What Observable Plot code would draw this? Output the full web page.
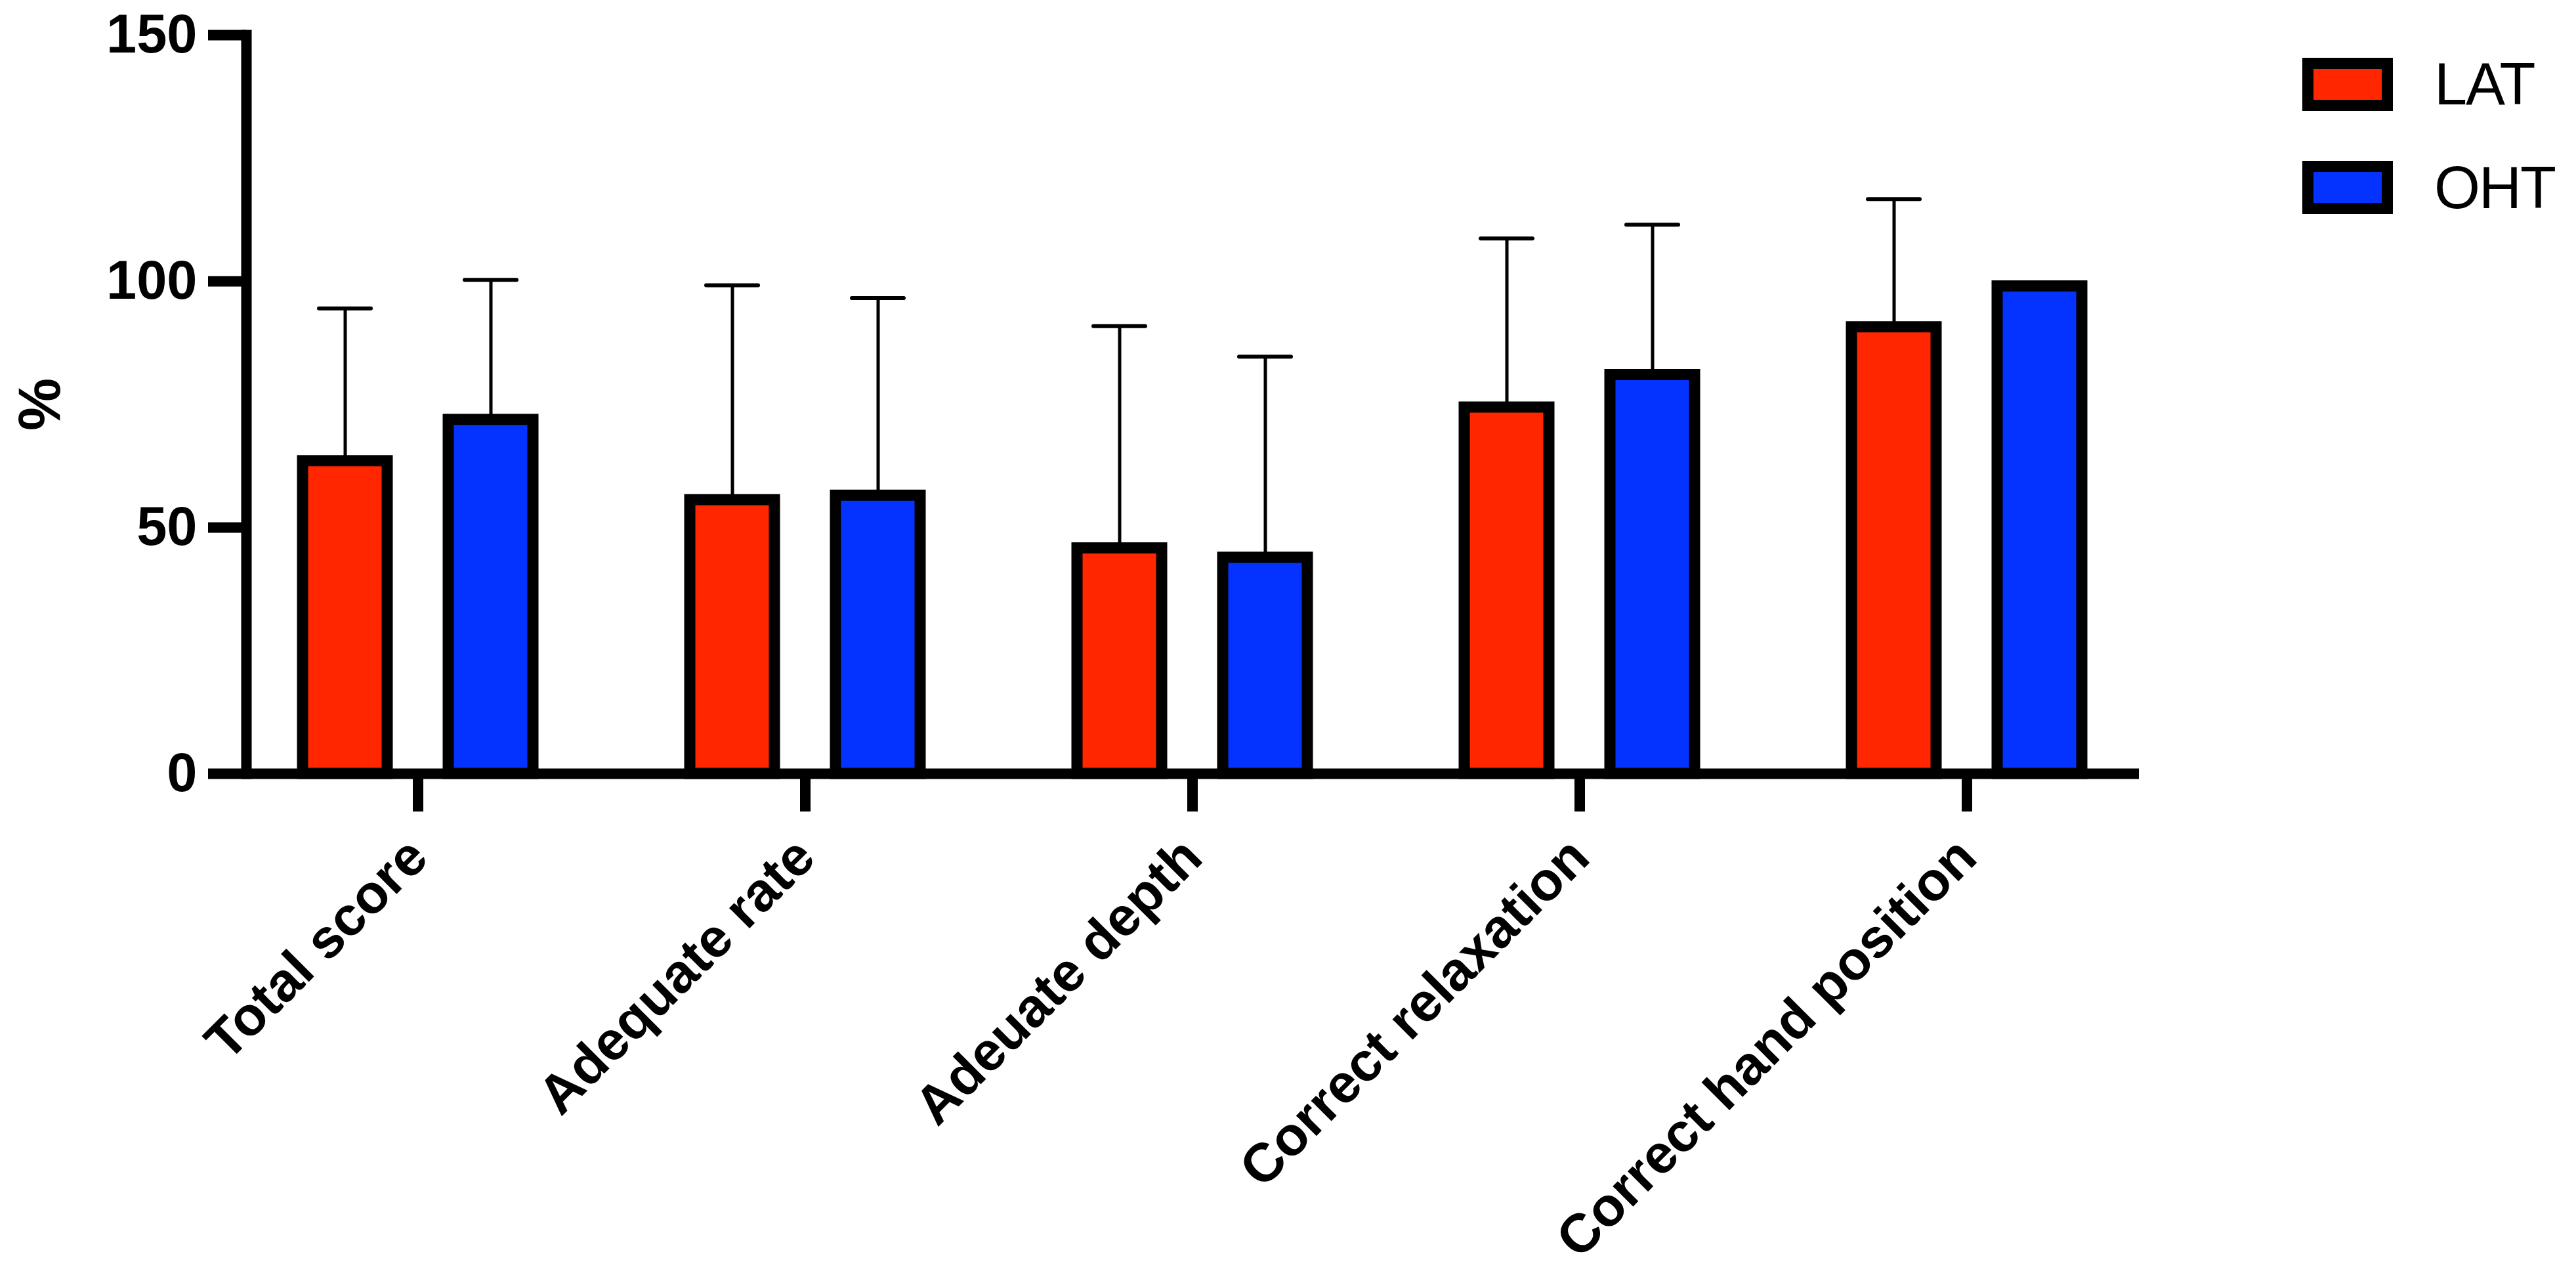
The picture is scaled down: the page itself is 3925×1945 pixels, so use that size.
<!DOCTYPE html>
<html>
<head>
<meta charset="utf-8">
<script src="https://cdn.jsdelivr.net/npm/d3@7"></script>
<script src="https://cdn.jsdelivr.net/npm/@observablehq/plot@0.6"></script>
<style>
  html, body { margin: 0; padding: 0; background: #fff; }
  #wrap { position: relative; width: 3925px; height: 1945px; overflow: hidden; }
  #chart svg { display: block; }
  .swatch { position: absolute; box-sizing: border-box; width: 138px; height: 81px; border: 17px solid #000; }
  .ltext { position: absolute; font-family: 'Liberation Sans', Arial, sans-serif; font-size: 90px; line-height: 90px; color: #000; white-space: nowrap; letter-spacing: -2px; }
</style>
</head>
<body>
<div id="wrap">
  <div id="chart"></div>
  <div id="legend"></div>
</div>
<script>
// ---- data ----
const categories = ["Total score", "Adequate rate", "Adeuate depth", "Correct relaxation", "Correct hand position"];
const groups = ["LAT", "OHT"];
const latMean = [63.5, 55.6, 45.8, 74.4, 90.7];
const latSD   = [31.0, 43.6, 45.1, 34.3, 26.0];
const ohtMean = [71.9, 56.5, 43.9, 81.0, 99.0];
const ohtSD   = [28.4, 40.1, 40.8, 30.5, 0];
const yTicks = [0, 50, 100, 150];
const groupColors = ["#FF2600", "#0433FF"];

const rows = categories.flatMap((c, i) => [
  {category: c, group: "LAT", mean: latMean[i], sd: latSD[i]},
  {category: c, group: "OHT", mean: ohtMean[i], sd: ohtSD[i]}
]);

const bandInset = 195;   // bar half-gap inside band
const capInset = 220;    // error cap inset
const offsets = {LAT: -111, OHT: 111};

const groupMarks = groups.flatMap(g => {
  const d = rows.filter(r => r.group === g);
  const e = d.filter(r => r.sd > 0);
  return [
    Plot.ruleX(e, {x: "category", y1: "mean", y2: r => r.mean + r.sd, dx: offsets[g], stroke: "#000", strokeWidth: 5}),
    Plot.tickY(e, {x: "category", y: r => r.mean + r.sd, dx: offsets[g], insetLeft: capInset, insetRight: capInset, stroke: "#000", strokeWidth: 6, strokeLinecap: "round"}),
    Plot.barY(d, {x: "category", y: "mean", dx: offsets[g], insetLeft: bandInset, insetRight: bandInset, fill: "group", stroke: "#000", strokeWidth: 17})
  ];
});

const chart = Plot.plot({
  width: 3925,
  height: 1945,
  marginLeft: 375,
  marginRight: 666,
  marginTop: 53,
  marginBottom: 767,
  style: {fontFamily: "'Liberation Sans', Arial, sans-serif", fontWeight: "bold", fontSize: "83px", background: "white", color: "#000", overflow: "visible"},
  x: {domain: categories, paddingInner: 0.12, paddingOuter: 0, axis: null},
  y: {domain: [0, 150], axis: null},
  color: {domain: groups, range: groupColors},
  marks: [
    Plot.axisY({ticks: yTicks, tickSize: 58, strokeWidth: 16, tickPadding: 17, fontSize: 83, fontWeight: "bold", label: null}),
    Plot.axisY({ticks: [], tickSize: 0, fontSize: 90, fontWeight: "bold",
      label: "%", labelArrow: false, labelAnchor: "center", labelOffset: 348}),
    Plot.axisX({tickSize: 58, strokeWidth: 16, tickRotate: -45, tickPadding: 55, fontSize: 83, fontWeight: "bold",
      textAnchor: "end", lineAnchor: "middle", label: null}),
    ...groupMarks,
    Plot.ruleY([0], {stroke: "#000", strokeWidth: 16}),
    Plot.frame({anchor: "left", stroke: "#000", strokeWidth: 16, strokeLinecap: "square"})
  ]
});
document.getElementById("chart").appendChild(chart);

// ---- legend ----
const legend = document.getElementById("legend");
const swatchTops = [88, 245];
const textTops = [83, 241];
groups.forEach((g, i) => {
  const sw = document.createElement("div");
  sw.className = "swatch";
  sw.style.left = "3508px";
  sw.style.top = swatchTops[i] + "px";
  sw.style.background = groupColors[i];
  legend.appendChild(sw);
  const t = document.createElement("div");
  t.className = "ltext";
  t.style.left = "3709px";
  t.style.top = textTops[i] + "px";
  t.textContent = g;
  legend.appendChild(t);
});
</script>
</body>
</html>
